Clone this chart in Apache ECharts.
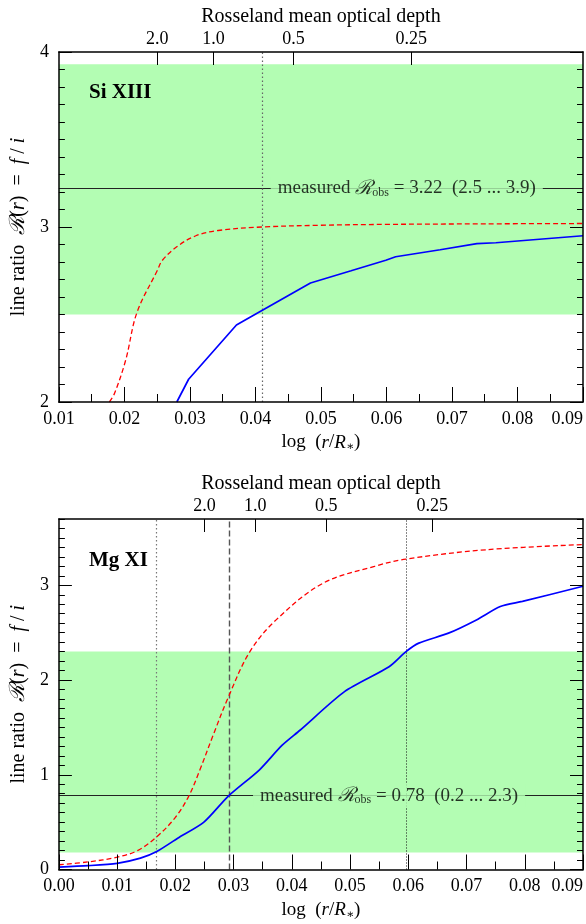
<!DOCTYPE html>
<html>
<head>
<meta charset="utf-8">
<script src="https://cdn.jsdelivr.net/npm/echarts@6/dist/echarts.min.js"></script>
<style>
  html, body { margin: 0; padding: 0; background: #fff; }
  #chart { width: 586px; height: 924px; }
</style>
</head>
<body>
<div id="chart"></div>
<script>
// ---- Si XIII panel ----
const siBlue = [[0.0280, 2.0], [0.0298, 2.13], [0.0371, 2.44], [0.0385, 2.47], [0.0484, 2.68],
  [0.0546, 2.75], [0.0599, 2.81], [0.0614, 2.83], [0.0682, 2.87], [0.0738, 2.905], [0.0767, 2.91], [0.0900, 2.95]];
const siRed = [[0.0177, 2.0], [0.0185, 2.05], [0.0202, 2.24], [0.0219, 2.51], [0.0250, 2.75], [0.0258, 2.81],
  [0.0281, 2.89], [0.0309, 2.95], [0.0343, 2.98], [0.0410, 3.0], [0.0500, 3.01], [0.0600, 3.015], [0.0750, 3.018], [0.0900, 3.02]];
const siMeasured = 3.22;
const siBand = [2.5, 3.93];
const siMarkers = [0.041];
const siRossPos = [0.025, 0.0336, 0.0458, 0.0638];
const siLabelX = 0.0631;

// ---- Mg XI panel ----
const mgBlue = [[0.0, 0.025], [0.005, 0.04], [0.010, 0.065], [0.014, 0.12], [0.0168, 0.19], [0.0204, 0.33],
  [0.0249, 0.50], [0.0291, 0.775], [0.0344, 1.05], [0.0383, 1.31], [0.0414, 1.47], [0.0491, 1.88],
  [0.0567, 2.14], [0.0596, 2.30], [0.0618, 2.39], [0.0669, 2.495], [0.0717, 2.635], [0.0758, 2.776],
  [0.0796, 2.83], [0.0900, 2.99]];
const mgRed = [[0.0, 0.05], [0.005, 0.08], [0.010, 0.13], [0.0135, 0.20], [0.0168, 0.345], [0.0200, 0.55],
  [0.0223, 0.775], [0.0242, 1.05], [0.0265, 1.42], [0.0291, 1.82], [0.0328, 2.30], [0.0373, 2.635],
  [0.0453, 3.02], [0.0542, 3.20], [0.0596, 3.277], [0.0733, 3.375], [0.0900, 3.43]];
const mgMeasured = 0.78;
const mgBand = [0.18, 2.3];
const mgMarkers = [0.0168, 0.0292, 0.0596];
const mgRossPos = [0.025, 0.0337, 0.0459, 0.0641];
const mgLabelX = 0.0567;

// shared tick labels of the optical-depth axis
const rossLabels = ['2.0', '1.0', '0.5', '0.25'];

const FONT = '"Liberation Serif", "Times New Roman", "DejaVu Serif", serif';
const GREEN = '#b3fdb3';

const chart = echarts.init(document.getElementById('chart'), null, { renderer: 'canvas' });

function rich(size) {
  return {
    t: { fontFamily: FONT, fontSize: size, color: '#000' },
    i: { fontFamily: FONT, fontSize: size, fontStyle: 'italic', color: '#000' },
    s: { fontFamily: FONT, fontSize: size + 1, fontStyle: 'italic', color: '#000' },
    sub: { fontFamily: FONT, fontSize: Math.round(size * 0.65), color: '#000', padding: [9, 0, 0, 0] }
  };
}

const panels = [
  { top: 52, height: 350, xmin: 0.01, xmax: 0.09, ymin: 2, ymax: 4, majors: [2, 3, 4],
    blue: siBlue, red: siRed, measured: siMeasured, band: siBand, ross: siRossPos, labelX: siLabelX,
    redSmooth: 0.35, blueSmooth: false,
    markers: [{ x: siMarkers[0], color: '#666', type: [1.5, 2.5], width: 1.2 }] },
  { top: 519, height: 350.5, xmin: 0.0, xmax: 0.09, ymin: 0, ymax: 3.7, majors: [0, 1, 2, 3],
    blue: mgBlue, red: mgRed, measured: mgMeasured, band: mgBand, ross: mgRossPos, labelX: mgLabelX,
    redSmooth: 0.35, blueSmooth: 0.25,
    markers: [
      { x: mgMarkers[0], color: '#777', type: [1.5, 2.5], width: 1.2 },
      { x: mgMarkers[1], color: '#555', type: [6, 3], width: 1.4 },
      { x: mgMarkers[2], color: '#111', type: [1, 2], width: 1 }
    ] }
];

const grid = [], xAxis = [], yAxis = [], series = [];
const lineBlack = { color: '#000', width: 1.5 };
const tickBlack = { color: '#000', width: 1 };

panels.forEach((p, g) => {
  grid.push({ left: 56, width: 528, top: p.top, height: p.height, containLabel: false });

  // bottom axis: log(r/R*)
  xAxis.push({
    gridIndex: g, type: 'value', position: 'bottom', min: p.xmin, max: p.xmax, interval: 0.01, z: 5,
    axisLine: { show: true, onZero: false, lineStyle: lineBlack },
    axisTick: { show: true, inside: true, length: 15, lineStyle: tickBlack },
    minorTick: { show: true, splitNumber: 2, length: 8, lineStyle: tickBlack },
    splitLine: { show: false },
    axisLabel: { fontFamily: FONT, fontSize: 18, color: '#000', margin: 8,
      formatter: v => v.toFixed(2), alignMaxLabel: 'right' },
    name: '{t|log  (}{i|r}{t|/}{i|R}{sub|∗}{t|)}',
    nameLocation: 'middle', nameGap: 30,
    nameTextStyle: { rich: rich(19) }
  });
  // top axis: Rosseland mean optical depth
  xAxis.push({
    gridIndex: g, type: 'value', position: 'top', min: p.xmin, max: p.xmax, z: 5,
    axisLine: { show: true, onZero: false, lineStyle: lineBlack },
    axisTick: { show: true, inside: true, length: 13, lineStyle: tickBlack, customValues: p.ross },
    splitLine: { show: false },
    axisLabel: { fontFamily: FONT, fontSize: 18, color: '#000', margin: 4, customValues: p.ross,
      formatter: v => {
        let best = 0;
        p.ross.forEach((r, k) => { if (Math.abs(r - v) < Math.abs(p.ross[best] - v)) best = k; });
        return rossLabels[best];
      } },
    name: 'Rosseland mean optical depth', nameLocation: 'middle', nameGap: 25,
    nameTextStyle: { fontFamily: FONT, fontSize: 20, color: '#000' }
  });

  const yBase = { gridIndex: g, type: 'value', min: p.ymin, max: p.ymax, z: 5, splitLine: { show: false } };
  // left: minor ticks + frame
  yAxis.push(Object.assign({}, yBase, {
    position: 'left', interval: 0.1,
    axisLine: { show: true, onZero: false, lineStyle: lineBlack },
    axisTick: { show: true, inside: true, length: 6, lineStyle: tickBlack },
    axisLabel: { show: false }
  }));
  // left: major ticks, labels, title
  yAxis.push(Object.assign({}, yBase, {
    position: 'left',
    axisLine: { show: false, onZero: false },
    axisTick: { show: true, inside: true, length: 13, lineStyle: tickBlack, customValues: p.majors },
    axisLabel: { fontFamily: FONT, fontSize: 18, color: '#000', margin: 10, customValues: p.majors },
    name: '{t|line ratio  }{s|ℛ}{t|(}{i|r}{t|)  =  }{i|f}{t| / }{i|i}',
    nameLocation: 'middle', nameGap: 27, nameRotate: 90,
    nameTextStyle: { rich: rich(20) }
  }));
  // right: minor ticks + frame
  yAxis.push(Object.assign({}, yBase, {
    position: 'right', interval: 0.1,
    axisLine: { show: true, onZero: false, lineStyle: lineBlack },
    axisTick: { show: true, inside: true, length: 6, lineStyle: tickBlack },
    axisLabel: { show: false }
  }));
  // right: major ticks
  yAxis.push(Object.assign({}, yBase, {
    position: 'right',
    axisLine: { show: false, onZero: false },
    axisTick: { show: true, inside: true, length: 13, lineStyle: tickBlack, customValues: p.majors },
    axisLabel: { show: false }
  }));

  const xi = g * 2, yi = g * 4 + 1;

  // measured range band
  series.push({
    type: 'line', xAxisIndex: xi, yAxisIndex: yi, data: [], z: 1, silent: true,
    markArea: { silent: true, z: 1, itemStyle: { color: GREEN }, data: [[{ yAxis: p.band[0] }, { yAxis: p.band[1] }]] }
  });
  // measured value line and marker lines
  series.push({
    type: 'line', xAxisIndex: xi, yAxisIndex: yi, data: [], z: 2, silent: true,
    markLine: {
      silent: true, symbol: 'none', animation: false, precision: 5, z: 2,
      label: { show: false },
      data: [{ yAxis: p.measured, lineStyle: { color: '#222', width: 1, type: 'solid' } }]
        .concat(p.markers.map(m => ({ xAxis: m.x, lineStyle: { color: m.color, width: m.width, type: m.type } })))
    }
  });
  // model curves
  series.push({
    type: 'line', xAxisIndex: xi, yAxisIndex: yi, data: p.red, z: 3, symbol: 'none',
    smooth: p.redSmooth, clip: true,
    lineStyle: { color: '#ff0000', width: 1.3, type: [5, 3] }
  });
  series.push({
    type: 'line', xAxisIndex: xi, yAxisIndex: yi, data: p.blue, z: 3, symbol: 'none',
    smooth: p.blueSmooth, clip: true,
    lineStyle: { color: '#0000ff', width: 1.7 }
  });
  // measured value annotation
  series.push({
    type: 'scatter', xAxisIndex: xi, yAxisIndex: yi, z: 10, silent: true,
    data: [[p.labelX, p.measured]], symbolSize: 0,
    label: {
      show: true, position: 'inside', backgroundColor: GREEN, padding: [1, 7],
      formatter: '{t|measured }{s|ℛ}{sub|obs}{t| = ' + p.measured.toFixed(2) + '  (' +
        p.band[0].toFixed(1) + ' ... ' + p.band[1].toFixed(1) + ')}',
      rich: rich(19)
    }
  });
});

chart.setOption({
  animation: false,
  backgroundColor: '#fff',
  grid, xAxis, yAxis, series,
  graphic: [
    { type: 'text', left: 89, top: 82, z: 10,
      style: { text: 'Si XIII', font: 'bold 21px ' + FONT, fill: '#000' } },
    { type: 'text', left: 89, top: 550, z: 10,
      style: { text: 'Mg XI', font: 'bold 21px ' + FONT, fill: '#000' } }
  ]
});
</script>
</body>
</html>
